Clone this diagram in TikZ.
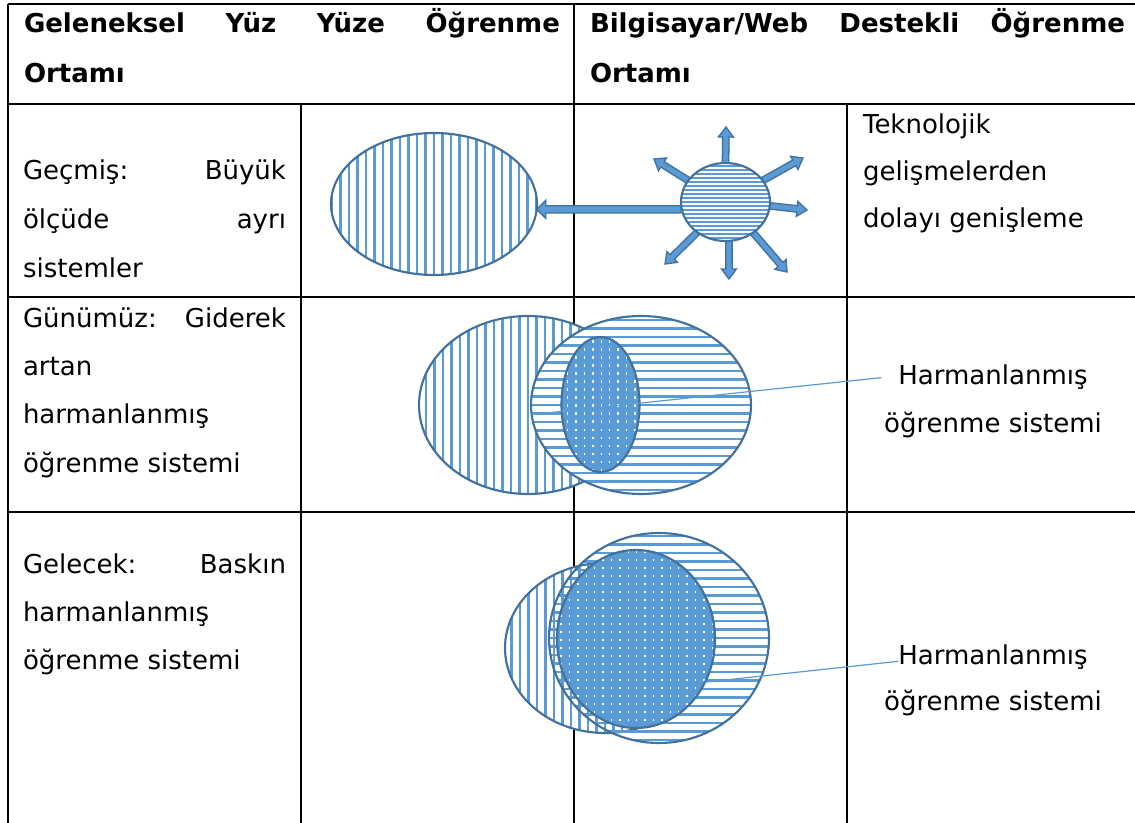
\documentclass[tikz,border=0pt]{standalone}
\usepackage{fontspec}
\setmainfont{DejaVu Sans}
\usetikzlibrary{shapes.geometric,calc}
\pgfdeclarelayer{bg}\pgfdeclarelayer{fg}
\pgfsetlayers{bg,main,fg}
\definecolor{hatch}{HTML}{5B9BD5}
\definecolor{edge}{HTML}{41719C}
\newdimen\px \px=0.75pt
\newcommand\barrow[5]{%
  \coordinate (bh) at ($(#2)!#5*0.75pt!(#1)$);
  \filldraw[blockarrow] ($(#1)!#3*0.75pt!90:(#2)$) -- ($(bh)!#3*0.75pt!90:(#2)$)
    -- ($(bh)!#4*0.75pt!90:(#2)$) -- (#2) -- ($(bh)!#4*0.75pt!-90:(#2)$)
    -- ($(bh)!#3*0.75pt!-90:(#2)$) -- ($(#1)!#3*0.75pt!-90:(#2)$) -- cycle;}
\tikzset{
  tbl/.style={line width=1.5pt, black},
  ell/.style={ellipse, draw=edge, line width=1.6pt, inner sep=0, outer sep=0},
  vhatch/.style={path picture={\foreach \k in {-20,...,20}
     \draw[hatch, line width=1.7pt] ([xshift=\k*6.375pt]path picture bounding box.north) -- ([xshift=\k*6.375pt]path picture bounding box.south);}},
  hhatch/.style={path picture={\foreach \k in {-20,...,20}
     \draw[hatch, line width=1.8pt] ([yshift=\k*6.375pt]path picture bounding box.west) -- ([yshift=\k*6.375pt]path picture bounding box.east);}},
  fhatch/.style={path picture={\foreach \k in {-15,...,15}
     \draw[hatch, line width=1.1pt] ([yshift=\k*3pt]path picture bounding box.west) -- ([yshift=\k*3pt]path picture bounding box.east);}},
  dots/.style={fill=hatch, path picture={\foreach \i in {-10,...,10} \foreach \j in {-12,...,12}
     \fill[white] ([shift={(\i*8.4,\j*8)}]path picture bounding box.center) rectangle ++(1.4,2.2);}},
  blockarrow/.style={fill=hatch, draw=edge, line width=1pt, line join=miter},
  callout/.style={hatch, line width=0.9pt},
  txt/.style={anchor=base west, inner sep=0, outer sep=0, font=\fontsize{19.5}{24}\selectfont},
  hdr/.style={txt, font=\fontsize{19.5}{24}\selectfont\bfseries},
  ctxt/.style={anchor=base, inner sep=0, outer sep=0, font=\fontsize{19.5}{24}\selectfont},
}
\begin{document}
\begin{tikzpicture}[x=0.75pt, y=-0.75pt]
\useasboundingbox (0,0) rectangle (1135,823);
% table
\begin{pgfonlayer}{bg}
\fill[white] (0,0) rectangle (1135,823);
\draw[tbl] (8,4) -- (1136,4);
\draw[tbl] (8,104) -- (1136,104);
\draw[tbl] (8,297) -- (1136,297);
\draw[tbl] (8,512) -- (1136,512);
\draw[tbl] (8,4) -- (8,824);
\draw[tbl] (574,4) -- (574,824);
\draw[tbl] (301,104) -- (301,824);
\draw[tbl] (847,104) -- (847,824);
\end{pgfonlayer}
% header
\node[hdr] (h1a) at (24,33) {\hbox to 536\px{Geleneksel\hfill Yüz\hfill Yüze\hfill Öğrenme}};
\node[hdr] (h1b) at (24,83) {Ortamı};
\node[hdr] (h2a) at (590,33) {\hbox to 535\px{Bilgisayar/Web\hfill Destekli\hfill Öğrenme}};
\node[hdr] (h2b) at (590,83) {Ortamı};
% row 1 text
\node[txt] (r1a) at (23,180) {\hbox to 263\px{Geçmiş:\hfill Büyük}};
\node[txt] (r1b) at (23,229) {\hbox to 263\px{ölçüde\hfill ayrı}};
\node[txt] (r1c) at (23,278) {sistemler};
\node[txt] (t1) at (863,134) {Teknolojik};
\node[txt] (t2) at (863,181) {gelişmelerden};
\node[txt] (t3) at (863,228) {dolayı genişleme};
% row 2 text
\node[txt] (r2a) at (23,328) {\hbox to 263\px{Günümüz:\hfill Giderek}};
\node[txt] (r2b) at (23,376) {artan};
\node[txt] (r2c) at (23,424) {harmanlanmış};
\node[txt] (r2d) at (23,472) {öğrenme sistemi};
\node[ctxt] (l2a) at (993,385) {Harmanlanmış};
\node[ctxt] (l2b) at (993,432) {öğrenme sistemi};
% row 3 text
\node[txt] (r3a) at (23,573) {\hbox to 263\px{Gelecek:\hfill Baskın}};
\node[txt] (r3b) at (23,621) {harmanlanmış};
\node[txt] (r3c) at (23,669) {öğrenme sistemi};
\node[ctxt] (l3a) at (993,664) {Harmanlanmış};
\node[ctxt] (l3b) at (993,710) {öğrenme sistemi};
% row 1 shapes
\node[ell, fill=white, vhatch, minimum width=154.5pt, minimum height=106.5pt] (e1) at (434,204) {};
\begin{pgfonlayer}{fg}
\node[ell, fill=white, fhatch, minimum width=66.75pt, minimum height=58.5pt] (sun) at (725.5,202) {};
\end{pgfonlayer}
\coordinate (a0) at (sun.west |- e1.-3);
\barrow{a0}{e1.-3}{3.6}{9}{9}
\coordinate (tu) at (726,127);
\coordinate (td) at (729,279);
\coordinate (tr) at (807,210);
\coordinate (tur) at (803,158);
\coordinate (tul) at (654,159);
\coordinate (tdl) at (665,264);
\coordinate (tdr) at (787,272);
\barrow{sun.90}{tu}{3.2}{7.5}{10}
\barrow{sun.-85}{td}{3.2}{7.5}{10}
\barrow{sun.-5}{tr}{3.2}{7.5}{10}
\barrow{sun.30}{tur}{3.2}{7.5}{10}
\barrow{sun.150}{tul}{3.2}{7.5}{10}
\barrow{sun.227}{tdl}{3.2}{7.5}{10}
\barrow{sun.-48}{tdr}{3.2}{7.5}{10}
% row 2 shapes
\node[ell, fill=white, vhatch, minimum width=163.5pt, minimum height=133.5pt] (e2a) at (528,405) {};
\node[ell, fill=white, hhatch, minimum width=165pt, minimum height=133.5pt] (e2b) at (641,405) {};
\node[ell, dots, minimum width=58.5pt, minimum height=101.25pt] (e2c) at (600.5,404.5) {};
\draw[callout] (e2b.185) -- ([xshift=-12.75pt]l2a.west);
% row 3 shapes
\node[ell, fill=white, vhatch, minimum width=150pt, minimum height=127.5pt] (e3a) at (605,648) {};
\node[ell, hhatch, minimum width=165pt, minimum height=157.5pt] (e3b) at (659,638) {};
\node[ell, dots, minimum width=118.5pt, minimum height=133.5pt] (e3c) at (636,639) {};
\draw[callout] (e3c.-32) -- ([yshift=-3.5pt]l3a.west);
\end{tikzpicture}
\end{document}
